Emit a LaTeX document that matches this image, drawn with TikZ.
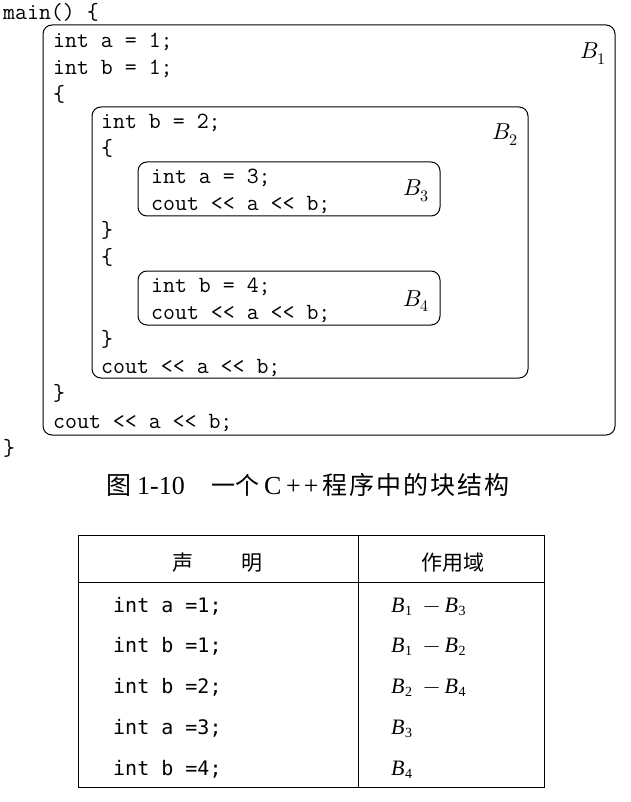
\documentclass[tikz,border=0pt]{standalone}
\usepackage{fontspec}
\usepackage{unicode-math}
\setmainfont{Liberation Serif}
\setmathfont{Latin Modern Math}
\newfontfamily\tabmono{DejaVu Sans Mono}
\newfontfamily\cjk{Noto Sans CJK SC}
\newcommand{\scopeB}[1]{\textit{B}\kern0.5pt\raisebox{-0.3ex}{\fontsize{14}{14}\selectfont #1}}
\newcommand{\scopeminus}{\hspace{0.5em}$-$\hspace{0.2em}}
\begin{document}
\begin{tikzpicture}[x=1pt,y=-1pt,
  code/.style={anchor=base west,inner sep=0pt,font=\fontsize{23.2}{27}\selectfont\ttfamily},
  blab/.style={anchor=base west,inner sep=0pt,font=\fontsize{23}{27}\selectfont},
  blockbox/.style={draw,line width=1pt,rounded corners=9pt},
  tline/.style={draw,line width=1pt},
  captext/.style={anchor=base west,inner sep=0pt,font=\fontsize{26}{30}\selectfont},
  capcjk/.style={anchor=base west,inner sep=0pt,font=\fontsize{25}{30}\selectfont\cjk},
  thead/.style={anchor=base,inner sep=0pt,font=\fontsize{21}{25}\selectfont\cjk},
  tcode/.style={anchor=base west,inner sep=0pt,font=\fontsize{20}{24}\selectfont\tabmono},
  tscope/.style={anchor=base west,inner sep=0pt,font=\fontsize{22}{26}\selectfont}]
\useasboundingbox (0,0) rectangle (630,802);
% blocks
\draw[blockbox] (43,25) rectangle (615,435);
\draw[blockbox] (92,107) rectangle (528,378);
\draw[blockbox] (138,162) rectangle (440,216);
\draw[blockbox] (138,271) rectangle (440,325);
% code lines
\node[code] (c0)  at (3,20)      {main() \{};
\node[code] (c1)  at (53,47.2)   {int a = 1;};
\node[code] (c2)  at (53,74.4)   {int b = 1;};
\node[code] (c3)  at (53,101.6)  {\{};
\node[code] (c4)  at (101,128.8) {int b = 2;};
\node[code] (c5)  at (101,156)   {\{};
\node[code] (c6)  at (151,183.2) {int a = 3;};
\node[code] (c7)  at (151,210.4) {cout << a << b;};
\node[code] (c8)  at (101,237.6) {\}};
\node[code] (c9)  at (101,264.8) {\{};
\node[code] (c10) at (151,292)   {int b = 4;};
\node[code] (c11) at (151,319.2) {cout << a << b;};
\node[code] (c12) at (101,346.4) {\}};
\node[code] (c13) at (101,373.6) {cout << a << b;};
\node[code] (c14) at (53,400.8)  {\}};
\node[code] (c15) at (53,428)    {cout << a << b;};
\node[code] (c16) at (3,455.2)   {\}};
% block labels
\node[blab] (b1) at (580,59)  {$B_1$};
\node[blab] (b2) at (492,140) {$B_2$};
\node[blab] (b3) at (403,196) {$B_3$};
\node[blab] (b4) at (403,306) {$B_4$};
% caption
\node[capcjk]  (cap1) at (106,494) {图};
\node[captext] (cap2) at (137,494) {1-10};
\node[capcjk,font=\fontsize{24}{30}\selectfont\cjk] (cap3) at (211,494) {一个};
\node[captext] (cap4) at (264,494) {C};
\node[captext] (cap5) at (286,494) {+\kern3pt+};
\node[capcjk]  (cap6) at (322,494) {程\kern2pt序\kern2pt中\kern2pt的\kern2pt块\kern2pt结\kern2pt构};
% table
\draw[tline] (78,535) rectangle (544,787);
\draw[tline] (78,582) -- (544,582);
\draw[tline] (358,535) -- (358,787);
\node[thead] (h1) at (183,570) {声};
\node[thead] (h2) at (252,570) {明};
\node[thead] (h3) at (453,570) {作用域};
\node[tcode] (r1) at (113,612) {int a =1;};
\node[tcode] (r2) at (113,652) {int b =1;};
\node[tcode] (r3) at (113,693) {int b =2;};
\node[tcode] (r4) at (113,734) {int a =3;};
\node[tcode] (r5) at (113,775) {int b =4;};
\node[tscope] (s1) at (391,612) {\scopeB{1}\scopeminus\scopeB{3}};
\node[tscope] (s2) at (391,652) {\scopeB{1}\scopeminus\scopeB{2}};
\node[tscope] (s3) at (391,693) {\scopeB{2}\scopeminus\scopeB{4}};
\node[tscope] (s4) at (391,734) {\scopeB{3}};
\node[tscope] (s5) at (391,775) {\scopeB{4}};
\end{tikzpicture}
\end{document}
